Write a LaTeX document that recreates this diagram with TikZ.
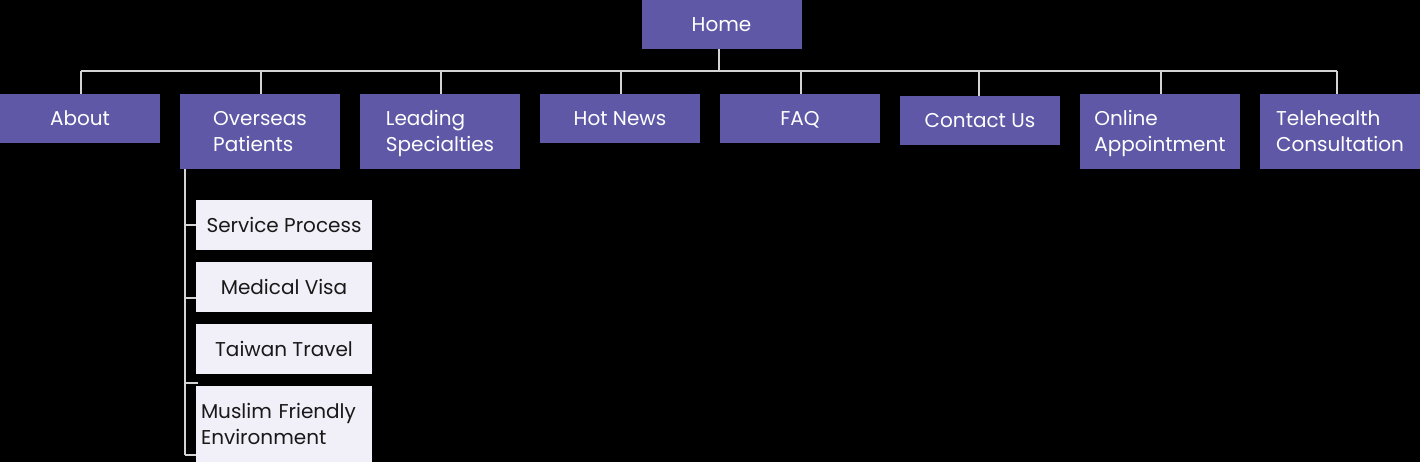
\documentclass[tikz,border=0pt]{standalone}
\usepackage{fontspec}
\setmainfont{Poppins}
\definecolor{navbox}{HTML}{5E58A6}
\definecolor{subbox}{HTML}{F1EFF7}
\definecolor{linegray}{HTML}{D4D4D4}
\newcommand\lnstrut{\rule[-5pt]{0pt}{25pt}}
\begin{document}
\begin{tikzpicture}[x=1pt,y=-1pt,
  topbox/.style={fill=navbox,text=white,minimum width=160pt,inner sep=0pt,
    font=\fontsize{20}{26}\selectfont,align=left},
  subitem/.style={fill=subbox,text=black!90,minimum width=176pt,minimum height=50pt,inner sep=0pt,
    font=\fontsize{20}{26}\selectfont,align=left},
  conn/.style={draw=linegray,line width=1.6pt}]
\fill[black] (0,0) rectangle (1420,462);
\useasboundingbox (0,0) rectangle (1420,462);
\node[topbox,minimum height=49pt] (home) at (721.5,24.5) {\lnstrut Home};
\node[topbox,minimum height=49pt] (about) at (80,118.5) {\lnstrut About};
\node[topbox,minimum height=75pt] (over) at (260,131.5) {\lnstrut Overseas\\\lnstrut Patients};
\node[topbox,minimum height=75pt] (lead) at (440,131.5) {\lnstrut Leading\\\lnstrut Specialties};
\node[topbox,minimum height=49pt] (news) at (620,118.5) {\lnstrut Hot News};
\node[topbox,minimum height=49pt] (faq) at (800,118.5) {\lnstrut FAQ};
\node[topbox,minimum height=49pt] (contact) at (980,120.5) {\lnstrut Contact Us};
\node[topbox,minimum height=75pt] (online) at (1160,131.5) {\lnstrut Online\\\lnstrut Appointment};
\node[topbox,minimum height=75pt] (tele) at (1340,131.5) {\lnstrut Telehealth\\\lnstrut Consultation};
\node[subitem] (serv) at (284,225) {\lnstrut Service Process};
\node[subitem] (visa) at (284,287) {\lnstrut Medical Visa};
\node[subitem] (travel) at (284,349) {\lnstrut Taiwan Travel};
\node[subitem,minimum height=76pt,text width=166pt] (muslim) at (284,424) {\lnstrut Muslim Friendly\\\lnstrut Environment};
\coordinate (bus) at (0,71);
\draw[conn] ([xshift=-2.5pt]home.south) -- ([xshift=-2.5pt]home.south |- bus);
\draw[conn] ([xshift=1pt]about.north |- bus) -- ([xshift=-3pt]tele.north |- bus);
\draw[conn] ([xshift=1pt]about.north) -- ([xshift=1pt]about.north |- bus);
\draw[conn] ([xshift=1pt]over.north) -- ([xshift=1pt]over.north |- bus);
\draw[conn] ([xshift=1pt]lead.north) -- ([xshift=1pt]lead.north |- bus);
\draw[conn] ([xshift=1pt]news.north) -- ([xshift=1pt]news.north |- bus);
\draw[conn] ([xshift=1pt]faq.north) -- ([xshift=1pt]faq.north |- bus);
\draw[conn] ([xshift=-1pt]contact.north) -- ([xshift=-1pt]contact.north |- bus);
\draw[conn] ([xshift=1pt]online.north) -- ([xshift=1pt]online.north |- bus);
\draw[conn] ([xshift=-3pt]tele.north) -- ([xshift=-3pt]tele.north |- bus);
\coordinate (spine) at ([xshift=5pt]over.south west);
\coordinate (spineend) at (spine |- 0,455);
\draw[conn] (spine) -- (spineend);
\draw[conn] (spine |- serv.west) -- (serv.west);
\coordinate (visatick) at ([yshift=-11pt]visa.west);
\draw[conn] (spine |- visatick) -- (visatick);
\coordinate (traveltick) at ([xshift=2pt,yshift=-9pt]travel.south west);
\draw[conn] (spine |- traveltick) -- (traveltick);
\coordinate (muslimtick) at ([yshift=-31pt]muslim.west);
\draw[conn] (spineend) -- (muslimtick);
\end{tikzpicture}
\end{document}
